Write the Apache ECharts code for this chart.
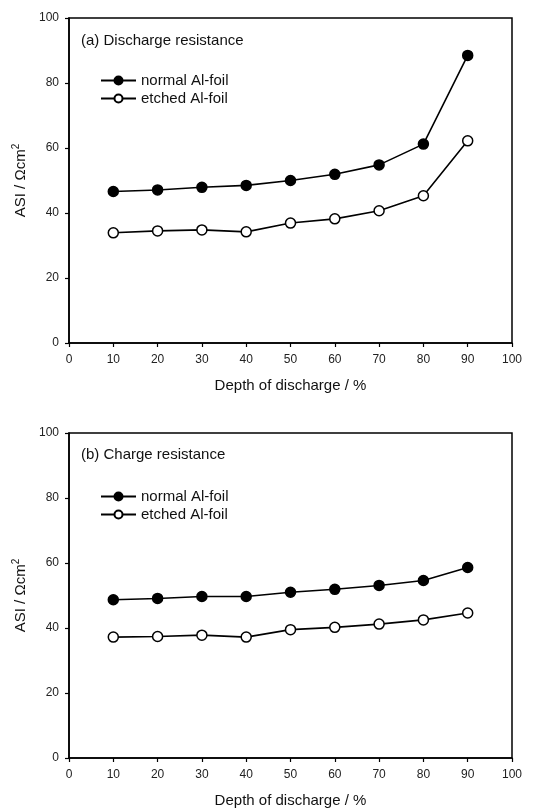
<!DOCTYPE html>
<html>
<head>
<meta charset="utf-8">
<script src="https://cdn.jsdelivr.net/npm/echarts@6/dist/echarts.min.js"></script>
<style>
  html, body { margin: 0; padding: 0; background: #fff; }
  #chart { width: 534px; height: 809px; }
</style>
</head>
<body>
<div id="chart"></div>
<script>
const depth = [10, 20, 30, 40, 50, 60, 70, 80, 90];
// (a) discharge resistance
const dischargeNormal = [46.6, 47.1, 47.9, 48.5, 50.0, 51.9, 54.8, 61.2, 88.5];
const dischargeEtched = [33.9, 34.5, 34.8, 34.2, 36.9, 38.2, 40.7, 45.3, 62.2];
// (b) charge resistance
const chargeNormal = [48.7, 49.1, 49.7, 49.7, 51.0, 51.9, 53.1, 54.6, 58.6];
const chargeEtched = [37.2, 37.4, 37.8, 37.2, 39.5, 40.2, 41.2, 42.5, 44.6];
const panelTitles = ["(a) Discharge resistance", "(b) Charge resistance"];
const seriesNames = ["normal Al-foil", "etched Al-foil"];

const font = "Liberation Sans, Arial, sans-serif";
const pairs = (ys) => depth.map((x, i) => [x, ys[i]]);

const chart = echarts.init(document.getElementById("chart"));

const grids = [
  { left: 69, top: 18, width: 443, height: 325 },
  { left: 69, top: 433, width: 443, height: 325 },
];

const xAxisBase = (gi) => ({
  type: "value",
  gridIndex: gi,
  min: 0,
  max: 100,
  interval: 10,
  name: "Depth of discharge / %",
  nameLocation: "middle",
  nameGap: 35,
  nameTextStyle: { color: "#111", fontSize: 15, fontFamily: font },
  axisLine: { show: true, lineStyle: { color: "#000", width: 1.5 } },
  axisTick: { show: true, length: 4, lineStyle: { color: "#000", width: 1.2 } },
  axisLabel: { color: "#222", fontSize: 12, fontFamily: font, margin: 11 },
  splitLine: { show: false },
});

const yAxisBase = (gi) => ({
  type: "value",
  gridIndex: gi,
  min: 0,
  max: 100,
  interval: 20,
  name: "ASI / Ωcm{sup|2}",
  nameLocation: "middle",
  nameGap: 37,
  nameTextStyle: {
    color: "#111",
    fontSize: 15,
    fontFamily: font,
    rich: { sup: { fontSize: 10, fontFamily: font, color: "#111", verticalAlign: "top", padding: [0, 0, 8, 0] } },
  },
  axisLine: { show: true, lineStyle: { color: "#000", width: 1.5 } },
  axisTick: { show: true, length: 4, lineStyle: { color: "#000", width: 1.2 } },
  axisLabel: { color: "#222", fontSize: 12, fontFamily: font, margin: 10 },
  splitLine: { show: false },
});

const lineSeries = (name, gi, ys, filled) => ({
  name: name,
  type: "line",
  xAxisIndex: gi,
  yAxisIndex: gi,
  data: pairs(ys),
  symbol: "circle",
  symbolSize: 10,
  showSymbol: true,
  lineStyle: { color: "#000", width: 1.6 },
  itemStyle: {
    color: filled ? "#000" : "#fff",
    borderColor: "#000",
    borderWidth: 1.5,
  },
  emphasis: { disabled: true },
  animation: false,
});

const legendAt = (top) => ({
  data: seriesNames,
  orient: "vertical",
  left: 95,
  top: top,
  itemWidth: 35,
  itemHeight: 10,
  itemGap: 3,
  selectedMode: false,
  textStyle: { fontSize: 15, color: "#111", fontFamily: font },
});

const titleAt = (text, top) => ({
  text: text,
  left: 76,
  top: top,
  textStyle: { fontSize: 15, fontWeight: "normal", color: "#111", fontFamily: font },
});

const option = {
  backgroundColor: "#fff",
  grid: grids.map((g) => ({ ...g, show: true, borderColor: "#000", borderWidth: 1.5, backgroundColor: "transparent" })),
  xAxis: [xAxisBase(0), xAxisBase(1)],
  yAxis: [yAxisBase(0), yAxisBase(1)],
  title: [titleAt(panelTitles[0], 28), titleAt(panelTitles[1], 442)],
  legend: [legendAt(68), legendAt(484)],
  series: [
    lineSeries(seriesNames[0], 0, dischargeNormal, true),
    lineSeries(seriesNames[1], 0, dischargeEtched, false),
    lineSeries(seriesNames[0], 1, chargeNormal, true),
    lineSeries(seriesNames[1], 1, chargeEtched, false),
  ],
};

chart.setOption(option);
</script>
</body>
</html>
